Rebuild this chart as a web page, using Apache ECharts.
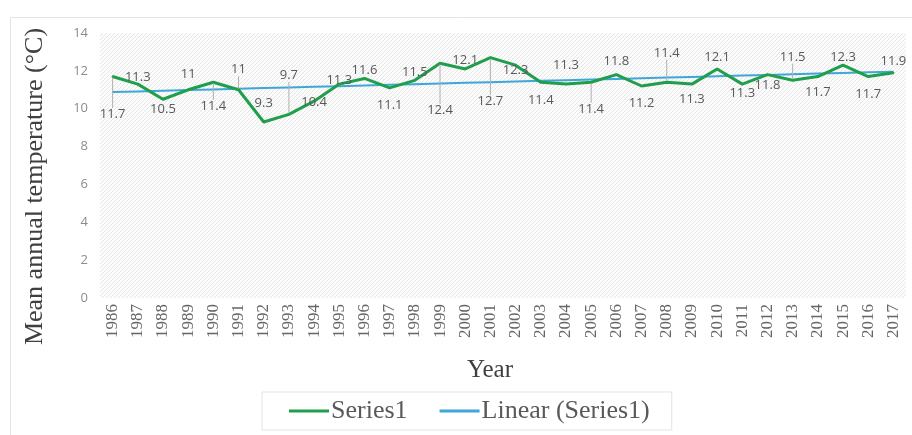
<!DOCTYPE html>
<html>
<head>
<meta charset="utf-8">
<script src="https://cdn.jsdelivr.net/npm/echarts@6/dist/echarts.min.js"></script>
<style>
  html, body { margin: 0; padding: 0; background: #fff; }
  #chart { width: 912px; height: 435px; }
</style>
</head>
<body>
<div id="chart"></div>
<script>
// data
const years = ["1986","1987","1988","1989","1990","1991","1992","1993","1994","1995","1996","1997","1998","1999","2000","2001",
  "2002","2003","2004","2005","2006","2007","2008","2009","2010","2011","2012","2013","2014","2015","2016","2017"];
const temps = [11.7, 11.3, 10.5, 11, 11.4, 11, 9.3, 9.7, 10.4, 11.3, 11.6, 11.1, 11.5, 12.4, 12.1, 12.7,
  12.3, 11.4, 11.3, 11.4, 11.8, 11.2, 11.4, 11.3, 12.1, 11.3, 11.8, 11.5, 11.7, 12.3, 11.7, 11.9];
const yTicks = [0, 2, 4, 6, 8, 10, 12, 14];

// label nudges (px, relative to the point) like excel placed them
const labelDy = [38, -7, 10, -15, 24, -20, -19, -39, 1, -4, -8, 17, -8, 47, -9, 44,
  5, 18, -19, 27, -13, 17, -29, 15, -12, 9, 11, -23, 16, -8, 18, -11];

// least squares trendline, like excel's "Linear (Series1)"
function trend(vals) {
  const n = vals.length;
  let sx = 0, sy = 0, sxy = 0, sxx = 0;
  vals.forEach((v, i) => { sx += i; sy += v; sxy += i * v; sxx += i * i; });
  const b = (n * sxy - sx * sy) / (n * sxx - sx * sx);
  const a = (sy - b * sx) / n;
  return vals.map((v, i) => +(a + b * i).toFixed(3));
}

// light upward diagonal hatch for the plot area
function hatch() {
  const c = document.createElement("canvas");
  c.width = 4; c.height = 4;
  const ctx = c.getContext("2d");
  ctx.fillStyle = "#fcfcfc";
  ctx.fillRect(0, 0, 4, 4);
  ctx.strokeStyle = "#e6e6e6";
  ctx.lineWidth = 1;
  ctx.beginPath();
  ctx.moveTo(0, 4); ctx.lineTo(4, 0);
  ctx.moveTo(-1, 1); ctx.lineTo(1, -1);
  ctx.moveTo(3, 5); ctx.lineTo(5, 3);
  ctx.stroke();
  return c;
}

const serif = "Liberation Serif";
const chart = echarts.init(document.getElementById("chart"));

const seriesData = temps.map((v, i) => ({
  value: v,
  labelLine: { show: Math.abs(labelDy[i]) >= 20 }
}));

chart.setOption({
  animation: false,
  graphic: [{
    type: "rect",
    left: 8, top: 15,
    shape: { width: 903, height: 419 },
    style: { fill: "none", stroke: "#e3e3e3", lineWidth: 1 },
    silent: true
  }],
  grid: {
    left: 100, right: 6, top: 33, bottom: 137,
    show: true,
    borderWidth: 0,
    backgroundColor: { image: hatch(), repeat: "repeat" }
  },
  legend: {
    bottom: 5,
    left: 262,
    padding: [6, 22, 6, 27],
    itemGap: 32,
    itemWidth: 40,
    itemHeight: 3,
    icon: "rect",
    borderColor: "#e3e3e3",
    borderWidth: 1,
    textStyle: { fontFamily: serif, fontSize: 26, color: "#595959", padding: [0, 0, 0, -3] },
    data: ["Series1", "Linear (Series1)"]
  },
  xAxis: {
    type: "category",
    data: years,
    boundaryGap: true,
    name: "Year",
    nameLocation: "middle",
    nameGap: 60,
    nameTextStyle: { fontFamily: serif, fontSize: 25, color: "#404040", padding: [0, 26, 0, 0] },
    axisLine: { show: false },
    axisTick: { show: false },
    axisLabel: {
      rotate: 90,
      interval: 0,
      margin: 6,
      fontFamily: serif,
      fontSize: 17,
      color: "#666666"
    }
  },
  yAxis: {
    type: "value",
    min: yTicks[0],
    max: yTicks[yTicks.length - 1],
    interval: 2,
    name: "Mean annual temperature (\u00B0C)",
    nameLocation: "middle",
    nameGap: 52,
    nameTextStyle: { fontFamily: serif, fontSize: 26, color: "#404040", padding: [0, 42, 0, 0] },
    axisLine: { show: false },
    axisTick: { show: false },
    splitLine: { show: false },
    axisLabel: {
      margin: 12,
      fontFamily: "Open Sans",
      fontSize: 13,
      color: "#8c8c8c"
    }
  },
  series: [
    {
      name: "Series1",
      type: "line",
      data: seriesData,
      symbol: "circle",
      symbolSize: 2,
      color: "#1f9f4b",
      lineStyle: { width: 3, color: "#1f9f4b" },
      itemStyle: { color: "#1f9f4b" },
      z: 3,
      label: {
        show: true,
        position: "inside",
        fontFamily: "Open Sans",
        fontSize: 13,
        color: "#595959"
      },
      labelLayout: p => ({ dy: labelDy[p.dataIndex] }),
      labelLine: { lineStyle: { color: "#b0b0b0", width: 1 } }
    },
    {
      name: "Linear (Series1)",
      type: "line",
      data: trend(temps),
      symbol: "none",
      color: "#3ea6d9",
      lineStyle: { width: 2, color: "#3ea6d9" },
      z: 2
    }
  ]
});
</script>
</body>
</html>
